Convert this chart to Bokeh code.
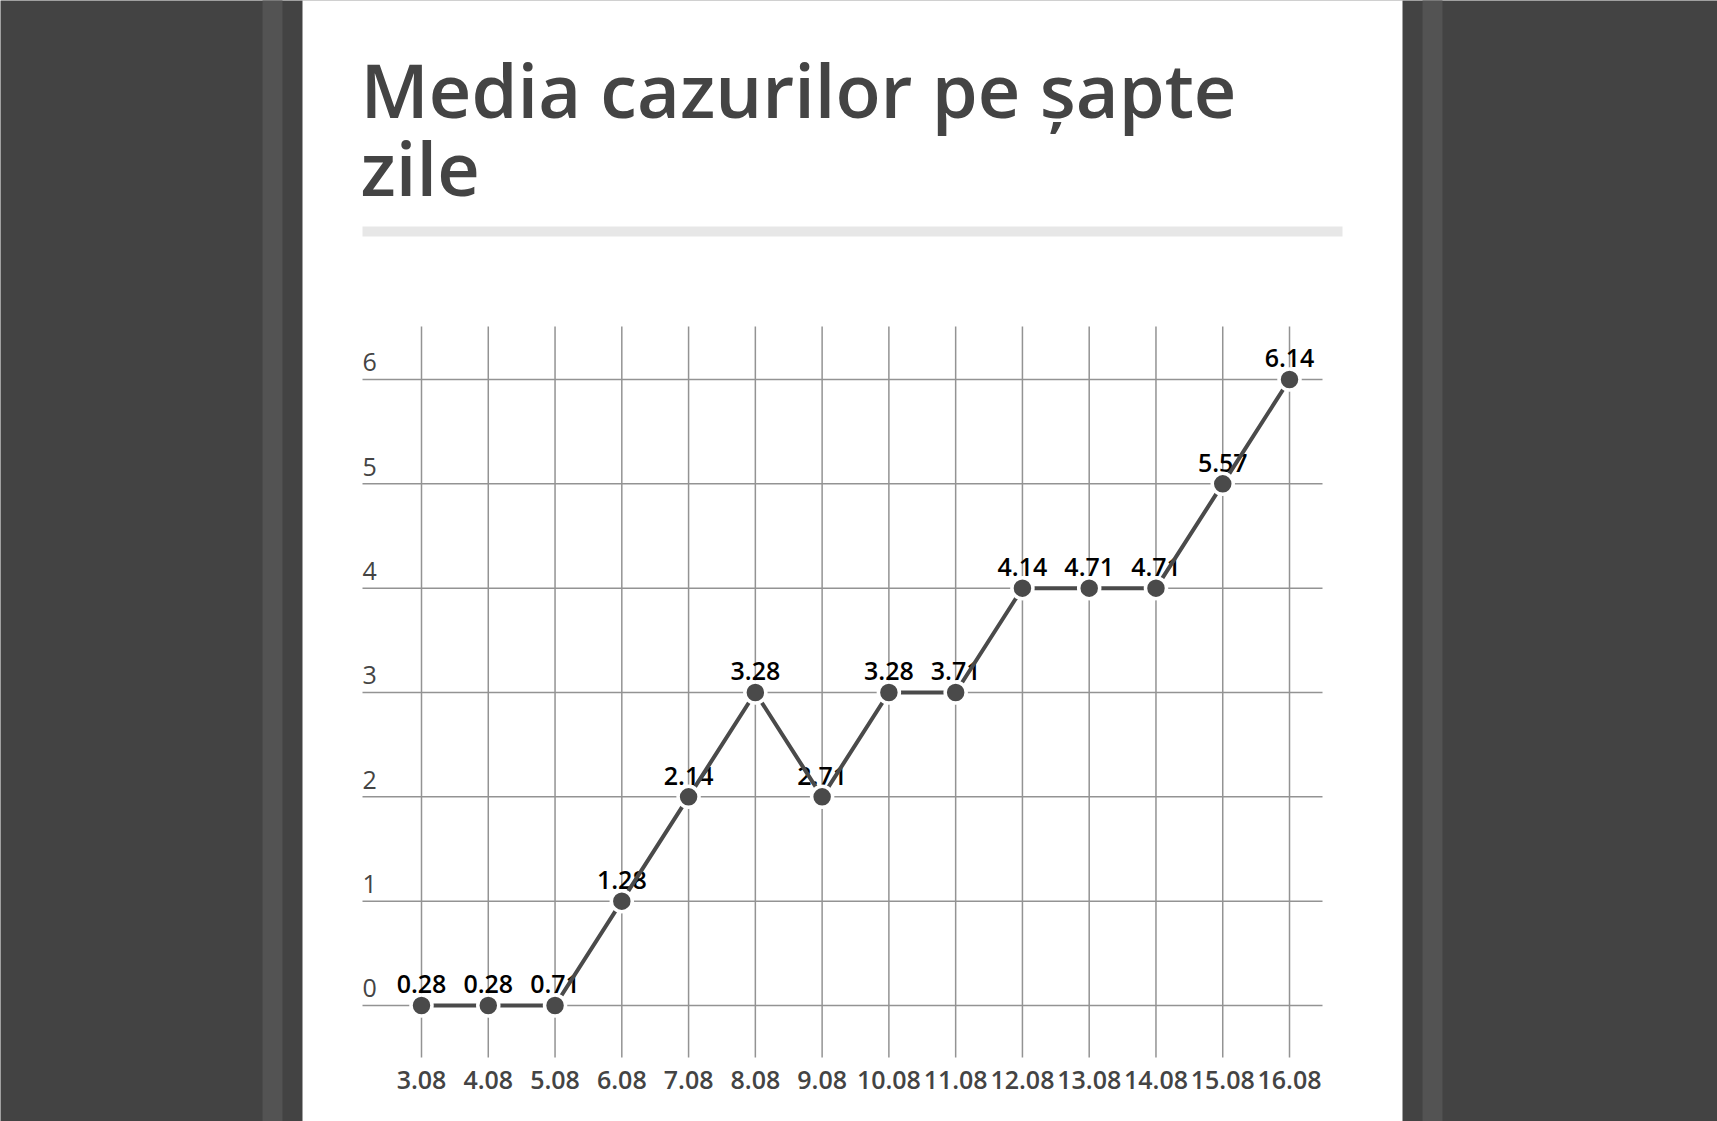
from bokeh.plotting import figure
from bokeh.models import Range1d, Label
from bokeh.core.properties import value
from bokeh.embed import file_html
from bokeh.resources import INLINE

# ---- data ----
dates = ["3.08", "4.08", "5.08", "6.08", "7.08", "8.08", "9.08",
         "10.08", "11.08", "12.08", "13.08", "14.08", "15.08", "16.08"]
weekly_avg = [0.28, 0.28, 0.71, 1.28, 2.14, 3.28, 2.71,
              3.28, 3.71, 4.14, 4.71, 4.71, 5.57, 6.14]
# the source chart draws every point on the whole level below its label
plotted_level = [0, 0, 0, 1, 2, 3, 2, 3, 3, 4, 4, 4, 5, 6]
y_ticks = [0, 1, 2, 3, 4, 5, 6]
title_lines = ["Media cazurilor pe șapte", "zile"]

# ---- page geometry (pixels of the page) ----
W, H = 1717, 1121
X0_PX, DX_PX = 421, 66.77    # first date, spacing between dates
Y0_PX, DY_PX = 1005, 104.33  # level 0, one level
LIFT = 0.41                  # svg text sits this many em below its baseline

DARK, STRIPE = "#434343", "#535353"
INK = "#444444"
FONT = "Open Sans"
FONT_MED = "'Open Sans SemiBold', 'Open Sans'"


def sx(px):
    return (px - X0_PX) / DX_PX


def sy(py):
    return (Y0_PX - py) / DY_PX


p = figure(width=W, height=H,
           x_range=Range1d(sx(0), sx(W)),
           y_range=Range1d(sy(H), sy(0)),
           x_axis_type=None, y_axis_type=None,
           toolbar_location=None, output_backend="svg",
           min_border=0, outline_line_color=None,
           background_fill_color=DARK, border_fill_color=DARK)

# side stripes and white panel
bands = [(262, 282, STRIPE), (1422, 1442, STRIPE), (302, 1402, "#ffffff")]
p.quad(left=[sx(a) for a, b, c in bands], right=[sx(b) for a, b, c in bands],
       top=sy(-20), bottom=sy(H + 20), color=[c for a, b, c in bands],
       line_color=None)

# title + rule
for line, base in zip(title_lines, [119, 197]):
    p.add_layout(Label(x=sx(360), y=sy(base - LIFT * 74), text=line,
                       text_font=FONT_MED, text_font_size="74px", text_color=INK,
                       text_baseline="alphabetic", text_align="left"))
p.quad(left=sx(362), right=sx(1342), top=sy(226), bottom=sy(236),
       color="#e7e7e7", line_color=None)

idx = list(range(len(dates)))

# grid
GRID = "#939393"
p.segment(x0=idx, x1=idx, y0=sy(1057), y1=sy(326), line_color=GRID, line_width=1.5)
p.segment(x0=sx(362), x1=sx(1322), y0=y_ticks, y1=y_ticks,
          line_color=GRID, line_width=1.5)

# y tick labels (sit above their line, at the left edge)
p.text(x=[0] * len(y_ticks), y=y_ticks, text=[str(t) for t in y_ticks],
       x_offset=362 - X0_PX, y_offset=-7 - LIFT * 25,
       text_font=value(FONT), text_font_size="25px", text_color=INK,
       text_align="left", text_baseline="alphabetic")

# x tick labels
p.text(x=idx, y=[y_ticks[0]] * len(idx), text=dates, y_offset=85 - LIFT * 25,
       text_font=value(FONT_MED), text_font_size="25px", text_color=INK,
       text_align="center", text_baseline="alphabetic")

# value labels
p.text(x=idx, y=plotted_level, text=[f"{v:.2f}" for v in weekly_avg],
       y_offset=-11 - LIFT * 25, text_font=value(FONT_MED), text_font_size="25px",
       text_color="#000000", text_align="center", text_baseline="alphabetic")

# series
p.line(x=idx, y=plotted_level, line_color="#4a4a4a", line_width=4)
p.scatter(x=idx, y=plotted_level, size=21, fill_color="#4a4a4a",
          line_color="#ffffff", line_width=3.5)

open("out.html", "w").write(file_html(p, INLINE))
